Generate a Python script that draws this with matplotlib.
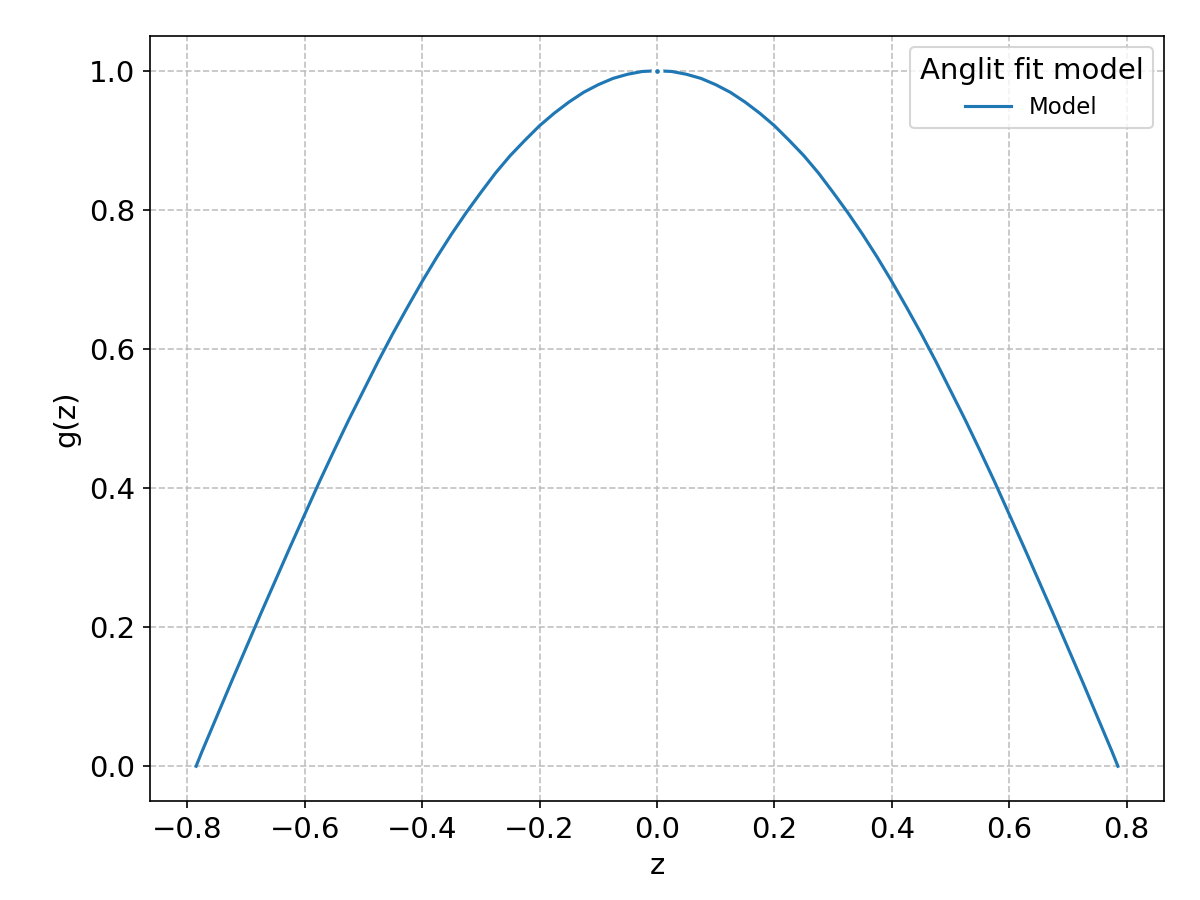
import matplotlib

matplotlib.use("Agg")
import matplotlib.pyplot as plt

# values
z_values = [
    -0.785, -0.775, -0.750, -0.725, -0.700, -0.675, -0.650, -0.625, -0.600,
    -0.575, -0.550, -0.525, -0.500, -0.475, -0.450, -0.425, -0.400, -0.375,
    -0.350, -0.325, -0.300, -0.275, -0.250, -0.225, -0.200, -0.175, -0.150,
    -0.125, -0.100, -0.075, -0.050, -0.025, 0.000,
    0.025, 0.050, 0.075, 0.100, 0.125, 0.150, 0.175, 0.200, 0.225, 0.250,
    0.275, 0.300, 0.325, 0.350, 0.375, 0.400, 0.425, 0.450, 0.475, 0.500,
    0.525, 0.550, 0.575, 0.600, 0.625, 0.650, 0.675, 0.700, 0.725, 0.750,
    0.775, 0.785,
]
g_values = [
    0.000, 0.021, 0.071, 0.121, 0.170, 0.219, 0.267, 0.315, 0.362,
    0.409, 0.454, 0.498, 0.540, 0.582, 0.622, 0.660, 0.697, 0.732,
    0.765, 0.796, 0.825, 0.853, 0.878, 0.900, 0.921, 0.939, 0.955,
    0.969, 0.980, 0.989, 0.995, 0.999, 1.000,
    0.999, 0.995, 0.989, 0.980, 0.969, 0.955, 0.939, 0.921, 0.900, 0.878,
    0.853, 0.825, 0.796, 0.765, 0.732, 0.697, 0.660, 0.622, 0.582, 0.540,
    0.498, 0.454, 0.409, 0.362, 0.315, 0.267, 0.219, 0.170, 0.121, 0.071,
    0.021, 0.000,
]
peak_z = [0.0]
peak_g = [1.0]

fig, ax = plt.subplots(figsize=(8, 6), dpi=150)
fig.subplots_adjust(left=0.125, right=0.97, top=0.96, bottom=0.11)
ax.plot(z_values, g_values, color="#1f77b4", linewidth=1.5, label="Model")
ax.plot(peak_z, peak_g, "o", color="#1f77b4", markersize=4.0,
        markeredgecolor="white", markeredgewidth=1.7)

ax.set_xlabel("z", fontsize=14)
ax.set_ylabel("g(z)", fontsize=14)
ax.tick_params(labelsize=14)
ax.grid(True, linestyle="--", color="#bbbbbb", alpha=0.9)
ax.legend(title="Anglit fit model", loc="upper right", fontsize=11,
          title_fontsize=14)
fig.savefig("out.png")
